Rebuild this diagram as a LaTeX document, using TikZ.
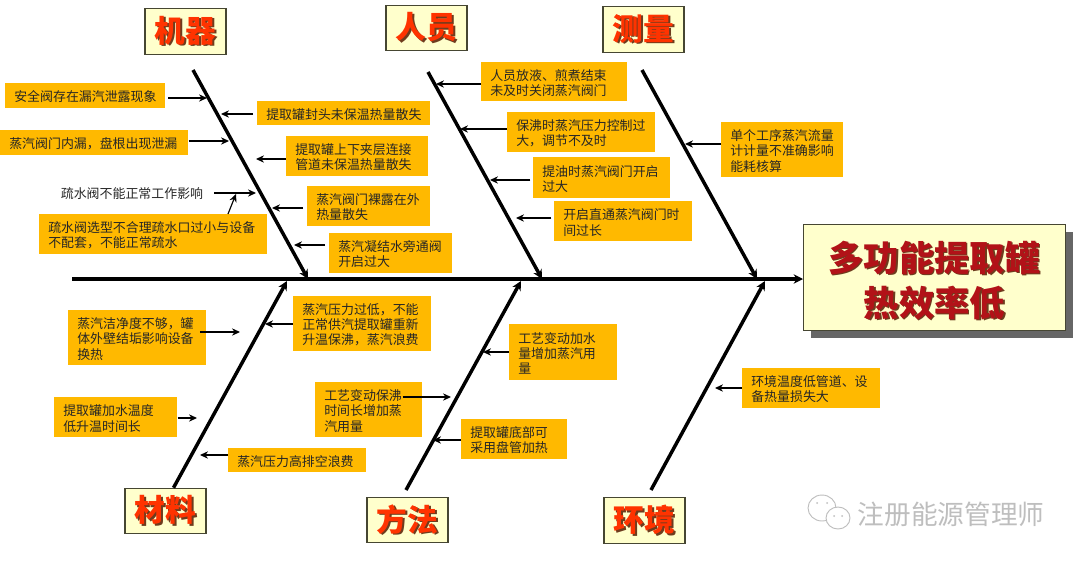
\documentclass[tikz,border=0pt]{standalone}
\usepackage{fontspec}
\setmainfont{Noto Sans CJK SC}
\usetikzlibrary{arrows.meta,shadows}
\definecolor{FishAmber}{RGB}{255,185,0}
\definecolor{FishCream}{RGB}{255,255,204}
\definecolor{FishEdge}{RGB}{70,70,50}
\definecolor{FishOrange}{RGB}{255,51,0}
\definecolor{FishRed}{RGB}{178,18,24}
\definecolor{FishShade}{RGB}{110,60,30}
\definecolor{FishMark}{RGB}{190,190,190}
\newcommand{\shadedtext}[3]{\leavevmode\rlap{\hspace{#3}\raisebox{-#3}{\color{FishShade}#2}}{\color{#1}#2}}

\begin{document}
\begin{tikzpicture}[x=0.75pt,y=-0.75pt,>=Stealth]
        \tikzset{
          cat/.style={draw=FishEdge,line width=0.9pt,fill=FishCream,minimum width=60.75pt,minimum height=34pt,inner sep=0pt,font=\fontsize{23}{26}\selectfont\bfseries},
          cause/.style 2 args={anchor=north west,fill=FishAmber,inner xsep=6.75pt,inner ysep=0pt,text width=#1*0.75pt-13.5pt,minimum height=#2*0.75pt,align=left,font=\fontsize{9.7}{11.4}\selectfont,text=black!85,execute at begin node={\rule{0pt}{10pt}}},
          bone/.style={line width=2.6pt,-{Stealth[length=7pt,width=7pt]}},
          spine/.style={line width=2.6pt,-{Stealth[length=7pt,width=7pt]}},
          twig/.style={line width=0.85pt,-{Stealth[length=6pt,width=5.5pt]}}
        }
        \useasboundingbox (0,0) rectangle (1080,561);
        \node[cat] (machine) at (185.5,31.5) {\shadedtext{FishOrange}{机器}{1.2pt}};
        \node[cat] (people) at (426.5,28) {\shadedtext{FishOrange}{人员}{1.2pt}};
        \node[cat] (measure) at (643.5,29.5) {\shadedtext{FishOrange}{测量}{1.2pt}};
        \node[cat] (material) at (165.5,511) {\shadedtext{FishOrange}{材料}{1.2pt}};
        \node[cat] (method) at (407.5,520) {\shadedtext{FishOrange}{方法}{1.2pt}};
        \node[cat] (environ) at (644.5,520.5) {\shadedtext{FishOrange}{环境}{1.2pt}};
        \node[draw=FishEdge,line width=0.8pt,fill=FishCream,anchor=north west,minimum width=196.5pt,minimum height=79.5pt,inner sep=0pt,align=center,font=\fontsize{26.5}{33.7}\selectfont\bfseries,general shadow={shadow xshift=5.5pt,shadow yshift=-5.5pt,fill=black!60}] (effect) at (803,224) {\rule{0pt}{28pt}\shadedtext{FishRed}{多功能提取罐}{1pt}\\\shadedtext{FishRed}{热效率低}{1pt}};

        \node[cause={160}{25}] (safety) at (5,83) {安全阀存在漏汽泄露现象};
        \node[cause={173}{24}] (headloss) at (257,101) {提取罐封头未保温热量散失};
        \node[cause={188}{25}] (leak) at (0,130) {蒸汽阀门内漏，盘根出现泄漏};
        \node[cause={142}{40}] (jacket) at (286,136) {提取罐上下夹层连接\\管道未保温热量散失};
        \node[anchor=center,font=\fontsize{9.7}{11.2}\selectfont,text=black!85,inner sep=0pt] (trap) at (132,194) {疏水阀不能正常工作影响};
        \node[cause={228}{40}] (trapsize) at (39,214) {疏水阀选型不合理疏水口过小与设备\\不配套，不能正常疏水};
        \node[cause={123}{40}] (bare) at (307,186) {蒸汽阀门裸露在外\\热量散失};
        \node[cause={123}{40}] (bypass) at (329,233) {蒸汽凝结水旁通阀\\开启过大};

        \node[cause={146}{39}] (drain) at (481,62) {人员放液、煎煮结束\\未及时关闭蒸汽阀门};
        \node[cause={148}{40}] (boil) at (507,112) {保沸时蒸汽压力控制过\\大，调节不及时};
        \node[cause={137}{41}] (oil) at (533,157) {提油时蒸汽阀门开启\\过大};
        \node[cause={138}{40}] (direct) at (554,201) {开启直通蒸汽阀门时\\间过长};
        \node[cause={122}{55}] (meter) at (721,122) {单个工序蒸汽流量\\计计量不准确影响\\能耗核算};

        \node[cause={138}{55}] (purity) at (68,310) {蒸汽洁净度不够，罐\\体外壁结垢影响设备\\换热};
        \node[cause={138}{55}] (lowpress) at (293,296) {蒸汽压力过低，不能\\正常供汽提取罐重新\\升温保沸，蒸汽浪费};
        \node[cause={123}{40}] (feed) at (54,397) {提取罐加水温度\\低升温时间长};
        \node[cause={138}{24}] (highpress) at (228,448) {蒸汽压力高排空浪费};
        \node[cause={107}{55}] (boiltime) at (315,382) {工艺变动保沸\\时间长增加蒸\\汽用量};
        \node[cause={108}{56}] (water) at (509,324) {工艺变动加水\\量增加蒸汽用\\量};
        \node[cause={106}{40}] (coil) at (461,419) {提取罐底部可\\采用盘管加热};
        \node[cause={138}{40}] (ambient) at (742,368) {环境温度低管道、设\\备热量损失大};

        \node[anchor=center,inner sep=0pt,font=\fontsize{20}{24}\selectfont,text=FishMark] (mark) at (951,514) {注册能源管理师};
        \draw[FishMark,line width=0.7pt,fill=white] (822,508) ellipse (14 and 13);
        \draw[FishMark,line width=0.7pt,fill=white] (838,518) ellipse (12 and 11);
        \fill[FishMark] (817,503) circle (1) (827,503) circle (1) (834,516) circle (1) (842,516) circle (1);

        \coordinate (spinetail) at (72,279);
        \coordinate (machinetop) at (193,70);
        \coordinate (machinejoint) at (308,279);
        \coordinate (peopletop) at (428,72);
        \coordinate (peoplejoint) at (542,279);
        \coordinate (measuretop) at (642,70);
        \coordinate (measurejoint) at (757,279);
        \coordinate (materialjoint) at (287,281);
        \coordinate (methodfoot) at (406,490);
        \coordinate (methodjoint) at (521,281);
        \coordinate (environfoot) at (651,490);
        \coordinate (environjoint) at (765,281);
        \draw[spine] (spinetail) -- (effect.west |- spinetail);
        \draw[bone] (machinetop) -- (machinejoint);
        \draw[bone] (peopletop) -- (peoplejoint);
        \draw[bone] (measuretop) -- (measurejoint);
        \draw[bone] (material.north) ++(8,0) -- (materialjoint);
        \draw[bone] (methodfoot) -- (methodjoint);
        \draw[bone] (environfoot) -- (environjoint);

        \coordinate (safetyend) at (207,98);
        \coordinate (headlossend) at (221,114);
        \coordinate (leakend) at (229,141);
        \coordinate (jacketend) at (256,159);
        \coordinate (trapend) at (256,193);
        \coordinate (trapsizeend) at (236,194);
        \coordinate (bareend) at (272,208);
        \coordinate (bypassend) at (294,245);
        \coordinate (drainend) at (436,84);
        \coordinate (boilend) at (460,129);
        \coordinate (oilend) at (490,180);
        \coordinate (directend) at (516,218);
        \coordinate (meterend) at (685,144);
        \coordinate (purityend) at (240,332);
        \coordinate (lowpressend) at (265,324);
        \coordinate (feedend) at (197,418);
        \coordinate (highpressend) at (200,455);
        \coordinate (boiltimeend) at (451,397);
        \coordinate (waterend) at (483,352);
        \coordinate (coilend) at (433,440);
        \coordinate (ambientend) at (715,388);
        \draw[twig] ([xshift=2pt]safety.east |- safetyend) -- (safetyend);
        \draw[twig] ([xshift=-3pt]headloss.west |- headlossend) -- (headlossend);
        \draw[twig] (leak.east |- leakend) -- (leakend);
        \draw[twig] (jacket.west |- jacketend) -- (jacketend);
        \draw[twig] ([xshift=8pt]trap.east |- trapend) -- (trapend);
        \draw[twig] (trapsize.north -| 228,0) -- (trapsizeend);
        \draw[twig] ([xshift=-3pt]bare.west |- bareend) -- (bareend);
        \draw[twig] ([xshift=-3pt]bypass.west |- bypassend) -- (bypassend);
        \draw[twig] (drain.west |- drainend) -- (drainend);
        \draw[twig] (boil.west |- boilend) -- (boilend);
        \draw[twig] ([xshift=-2pt]oil.west |- oilend) -- (oilend);
        \draw[twig] ([xshift=-2pt]direct.west |- directend) -- (directend);
        \draw[twig] (meter.west |- meterend) -- (meterend);
        \draw[twig] ([xshift=-5pt]purity.east |- purityend) -- (purityend);
        \draw[twig] (lowpress.west |- lowpressend) -- (lowpressend);
        \draw[twig] (feed.east |- feedend) -- (feedend);
        \draw[twig] (highpress.west |- highpressend) -- (highpressend);
        \draw[twig] ([xshift=-15pt]boiltime.east |- boiltimeend) -- (boiltimeend);
        \draw[twig] (water.west |- waterend) -- (waterend);
        \draw[twig] (coil.west |- coilend) -- (coilend);
        \draw[twig] (ambient.west |- ambientend) -- (ambientend);
      \end{tikzpicture}
\end{document}
